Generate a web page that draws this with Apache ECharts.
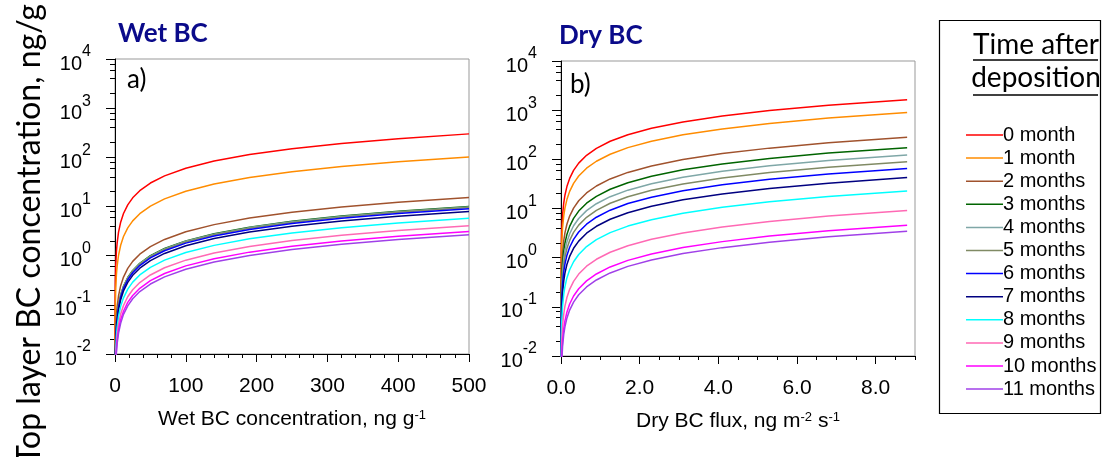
<!DOCTYPE html>
<html><head><meta charset="utf-8">
<script src="https://cdn.jsdelivr.net/npm/echarts@6/dist/echarts.min.js"></script>
<style>html,body{margin:0;padding:0;background:#fff}#c{width:1106px;height:457px}</style>
</head><body><div id="c"></div>
<script>
// ---------- DATA ----------
const seriesNames = ['0 month','1 month','2 months','3 months','4 months','5 months','6 months','7 months','8 months','9 months','10 months','11 months'];
const seriesColors = ['#ff0000','#ff8c00','#a0522d','#006400','#7fa7a7','#808a64','#0000ff','#000080','#00ffff','#ff69b4','#ff00ff','#a040e8'];

// Panel a: wet BC concentration (ng/g) -> top layer BC (ng/g)
const wetX  = [0.01, 0.05, 0.2, 0.5, 1, 2, 3, 5, 8, 12, 18, 25, 35, 50, 70, 100, 140, 190, 250, 320, 400, 500];
const wet0  = [0.006, 0.03, 0.12, 0.3, 0.6, 1.2, 1.8, 3, 4.8, 7.2, 10.8, 15, 21, 30, 42, 60, 84, 114, 150, 192, 240, 300];
const wet1  = [0.002, 0.0102, 0.041, 0.102, 0.204, 0.41, 0.61, 1.02, 1.63, 2.45, 3.67, 5.1, 7.14, 10.2, 14.3, 20.4, 28.6, 38.8, 51, 65.3, 81.6, 102];
const wet2  = [0.0003, 0.0015, 0.0061, 0.0153, 0.0306, 0.061, 0.092, 0.153, 0.245, 0.367, 0.55, 0.765, 1.07, 1.53, 2.14, 3.06, 4.28, 5.81, 7.65, 9.79, 12.2, 15.3];
const wet3  = [0.0002, 0.001, 0.004, 0.01, 0.02, 0.04, 0.06, 0.1, 0.16, 0.24, 0.36, 0.5, 0.7, 1.0, 1.4, 2.0, 2.8, 3.8, 5.0, 6.4, 8.0, 10.0];
const wet4  = [0.0002, 0.00098, 0.0039, 0.0098, 0.0196, 0.039, 0.059, 0.098, 0.157, 0.235, 0.353, 0.49, 0.686, 0.98, 1.37, 1.96, 2.74, 3.72, 4.9, 6.27, 7.84, 9.8];
const wet5  = [0.00019, 0.00095, 0.0038, 0.0095, 0.019, 0.038, 0.057, 0.095, 0.152, 0.228, 0.342, 0.475, 0.665, 0.95, 1.33, 1.9, 2.66, 3.61, 4.75, 6.08, 7.6, 9.5];
const wet6  = [0.00018, 0.0009, 0.0036, 0.009, 0.018, 0.036, 0.054, 0.09, 0.144, 0.216, 0.324, 0.45, 0.63, 0.9, 1.26, 1.8, 2.52, 3.42, 4.5, 5.76, 7.2, 9.0];
const wet7  = [0.00016, 0.0008, 0.0032, 0.008, 0.0159, 0.032, 0.048, 0.0795, 0.127, 0.191, 0.286, 0.398, 0.557, 0.795, 1.11, 1.59, 2.23, 3.02, 3.98, 5.09, 6.36, 7.95];
const wet8  = [0.00012, 0.00058, 0.0023, 0.0058, 0.0116, 0.023, 0.035, 0.058, 0.093, 0.139, 0.209, 0.29, 0.406, 0.58, 0.812, 1.16, 1.62, 2.2, 2.9, 3.71, 4.64, 5.8];
const wet9  = [0.00008, 0.0004, 0.0016, 0.004, 0.0081, 0.016, 0.024, 0.0405, 0.065, 0.097, 0.146, 0.203, 0.284, 0.405, 0.567, 0.81, 1.13, 1.54, 2.03, 2.59, 3.24, 4.05];
const wet10 = [0.00006, 0.0003, 0.0012, 0.0031, 0.0062, 0.0124, 0.0186, 0.031, 0.05, 0.074, 0.112, 0.155, 0.217, 0.31, 0.434, 0.62, 0.868, 1.18, 1.55, 1.98, 2.48, 3.1];
const wet11 = [0.00005, 0.00027, 0.0011, 0.0027, 0.0053, 0.0106, 0.016, 0.0265, 0.042, 0.064, 0.095, 0.133, 0.186, 0.265, 0.371, 0.53, 0.742, 1.01, 1.33, 1.7, 2.12, 2.65];

// Panel b: dry BC flux (ng m-2 s-1) -> top layer BC (ng/g)
const dryX  = [0.00002, 0.0002, 0.001, 0.004, 0.01, 0.02, 0.04, 0.07, 0.1, 0.15, 0.22, 0.32, 0.45, 0.65, 0.9, 1.25, 1.7, 2.3, 3.1, 4.1, 5.3, 6.8, 8.8];
const dry0  = [0.0037, 0.037, 0.186, 0.744, 1.86, 3.72, 7.44, 13, 18.6, 27.9, 40.9, 59.5, 83.7, 121, 167, 233, 316, 428, 577, 763, 986, 1265, 1637];
const dry1  = [0.002, 0.0203, 0.1015, 0.406, 1.015, 2.03, 4.06, 7.1, 10.15, 15.2, 22.3, 32.5, 45.7, 66, 91.4, 127, 173, 233, 315, 416, 538, 690, 893];
const dry2  = [0.00064, 0.0064, 0.0319, 0.128, 0.319, 0.638, 1.28, 2.23, 3.19, 4.79, 7.02, 10.2, 14.4, 20.7, 28.7, 39.9, 54.2, 73.4, 98.9, 131, 169, 217, 281];
const dry3  = [0.0004, 0.0039, 0.0197, 0.079, 0.197, 0.394, 0.788, 1.38, 1.97, 2.96, 4.33, 6.3, 8.87, 12.8, 17.7, 24.6, 33.5, 45.3, 61.1, 80.8, 104, 134, 173];
const dry4  = [0.00028, 0.0028, 0.0139, 0.056, 0.139, 0.278, 0.556, 0.973, 1.39, 2.09, 3.06, 4.45, 6.26, 9.04, 12.5, 17.4, 23.6, 32, 43.1, 57, 73.7, 94.5, 122];
const dry5  = [0.0002, 0.002, 0.0102, 0.041, 0.102, 0.204, 0.408, 0.714, 1.02, 1.53, 2.24, 3.26, 4.59, 6.63, 9.18, 12.8, 17.3, 23.5, 31.6, 41.8, 54.1, 69.4, 89.8];
const dry6  = [0.00015, 0.0015, 0.0074, 0.0296, 0.0739, 0.148, 0.296, 0.517, 0.739, 1.11, 1.63, 2.36, 3.33, 4.8, 6.65, 9.24, 12.6, 17, 22.9, 30.3, 39.2, 50.3, 65];
const dry7  = [0.0001, 0.001, 0.0048, 0.0193, 0.0483, 0.0966, 0.193, 0.338, 0.483, 0.725, 1.06, 1.55, 2.17, 3.14, 4.35, 6.04, 8.21, 11.1, 15, 19.8, 25.6, 32.8, 42.5];
const dry8  = [0.00005, 0.0005, 0.0026, 0.0103, 0.0258, 0.0516, 0.103, 0.181, 0.258, 0.387, 0.568, 0.826, 1.16, 1.68, 2.32, 3.23, 4.39, 5.93, 8, 10.6, 13.7, 17.5, 22.7];
const dry9  = [0.00002, 0.0002, 0.001, 0.0041, 0.0103, 0.0206, 0.0412, 0.0721, 0.103, 0.155, 0.227, 0.33, 0.464, 0.67, 0.927, 1.29, 1.75, 2.37, 3.19, 4.22, 5.46, 7, 9.06];
const dry10 = [0.00001, 0.0001, 0.0005, 0.0021, 0.0052, 0.0104, 0.0207, 0.0363, 0.0518, 0.0777, 0.114, 0.166, 0.233, 0.337, 0.466, 0.648, 0.881, 1.19, 1.61, 2.12, 2.75, 3.52, 4.56];
const dry11 = [0.000008, 0.00008, 0.0004, 0.0016, 0.0039, 0.0078, 0.0156, 0.0274, 0.0391, 0.0587, 0.086, 0.125, 0.176, 0.254, 0.352, 0.489, 0.665, 0.899, 1.21, 1.6, 2.07, 2.66, 3.44];

// Tick labels
const wetXTicks = [0, 100, 200, 300, 400, 500];
const dryXTicks = [0, 2, 4, 6, 8];
const yMinorMultipliers = [2, 4, 6, 8];
const yDecades = [-2, -1, 0, 1, 2, 3];

// ---------- BUILD ----------
const wetSets = [wet0,wet1,wet2,wet3,wet4,wet5,wet6,wet7,wet8,wet9,wet10,wet11];
const drySets = [dry0,dry1,dry2,dry3,dry4,dry5,dry6,dry7,dry8,dry9,dry10,dry11];

const SANS = '"Liberation Sans", Arial, sans-serif';
const HUM = 'Lato, "Open Sans", sans-serif';

const minorLogTicks = [];
yDecades.forEach(e => yMinorMultipliers.forEach(m => minorLogTicks.push(Math.log10(m * Math.pow(10, e)))));

function logYAxis(gi) {
  return {
    type: 'log', logBase: 10, gridIndex: gi, min: 0.01, max: 10000, splitNumber: 6,
    axisLine: { show: true, onZero: false, lineStyle: { color: '#000', width: 1 } },
    axisTick: { show: true, length: 9, lineStyle: { color: '#000', width: 1 } },
    minorTick: { show: false },
    splitLine: { show: false },
    axisLabel: {
      margin: 24, color: '#000',
      formatter: v => '{b|10}{s|' + Math.round(Math.log10(v)) + '}',
      rich: {
        b: { fontFamily: SANS, fontSize: 20, lineHeight: 30, verticalAlign: 'bottom', color: '#000' },
        s: { fontFamily: SANS, fontSize: 16, lineHeight: 26, verticalAlign: 'top', color: '#000' }
      }
    }
  };
}
function minorYAxis(gi) {
  return {
    type: 'value', gridIndex: gi, min: -2, max: 4, position: 'left',
    axisLine: { show: false, onZero: false }, axisLabel: { show: false }, splitLine: { show: false },
    axisTick: { show: true, length: 5, customValues: minorLogTicks, lineStyle: { color: '#000', width: 1 } }
  };
}
const nameRich = { s: { fontFamily: SANS, fontSize: 13, lineHeight: 13, verticalAlign: 'top', color: '#000' } };

function lineSeries(name, color, xi, yi, xs, ys) {
  return {
    name: name, type: 'line', xAxisIndex: xi, yAxisIndex: yi,
    data: xs.map((x, j) => [x, ys[j]]),
    symbol: 'none', showSymbol: false, smooth: false, clip: true,
    lineStyle: { width: 1.5, color: color }, itemStyle: { color: color }
  };
}
const series = [];
wetSets.forEach((ys, i) => series.push(lineSeries(seriesNames[i], seriesColors[i], 0, 0, wetX, ys)));
drySets.forEach((ys, i) => series.push(lineSeries(seriesNames[i], seriesColors[i], 1, 2, dryX, ys)));

const option = {
  animation: false,
  backgroundColor: '#fff',
  grid: [
    { left: 115, top: 59, width: 354, height: 295, show: true, borderColor: '#999', borderWidth: 1, backgroundColor: '#fff' },
    { left: 561, top: 61, width: 354, height: 295, show: true, borderColor: '#999', borderWidth: 1, backgroundColor: '#fff' }
  ],
  xAxis: [
    {
      type: 'value', gridIndex: 0, position: 'bottom', min: 0, max: 500, interval: 100,
      axisLine: { show: true, onZero: false, lineStyle: { color: '#000' } },
      axisTick: { show: true, length: 8, lineStyle: { color: '#000' } },
      minorTick: { show: true, splitNumber: 5, length: 4, lineStyle: { color: '#000' } },
      splitLine: { show: false },
      axisLabel: { margin: 22, color: '#000', fontFamily: SANS, fontSize: 21, customValues: wetXTicks },
      name: 'Wet BC concentration, ng g{s|-1}', nameLocation: 'middle', nameGap: 55,
      nameTextStyle: { fontFamily: SANS, fontSize: 21, color: '#000', rich: nameRich }
    },
    {
      type: 'value', gridIndex: 1, position: 'bottom', min: 0, max: 9, interval: 0.5,
      axisLine: { show: true, onZero: false, lineStyle: { color: '#000' } },
      axisTick: { show: true, length: 4, lineStyle: { color: '#000' } },
      splitLine: { show: false },
      axisLabel: { margin: 22, color: '#000', fontFamily: SANS, fontSize: 21, customValues: dryXTicks, formatter: v => v.toFixed(1) },
      name: 'Dry BC flux, ng m{s|-2} s{s|-1}', nameLocation: 'middle', nameGap: 55,
      nameTextStyle: { fontFamily: SANS, fontSize: 21, color: '#000', rich: nameRich }
    },
    {
      type: 'value', gridIndex: 1, position: 'bottom', min: 0, max: 9, interval: 0.5,
      axisLine: { show: false, onZero: false }, axisLabel: { show: false }, splitLine: { show: false },
      axisTick: { show: true, length: 8, customValues: dryXTicks, lineStyle: { color: '#000' } }
    }
  ],
  yAxis: [logYAxis(0), minorYAxis(0), logYAxis(1), minorYAxis(1)],
  legend: {
    data: seriesNames, orient: 'vertical', left: 961, top: 120,
    icon: 'rect', itemWidth: 37, itemHeight: 1.5, itemGap: 3.1, selectedMode: false,
    textStyle: { fontFamily: SANS, fontSize: 20, lineHeight: 20, color: '#000', padding: [0, 0, 0, -5] }
  },
  graphic: [
    { type: 'rect', shape: { x: 939.5, y: 20.5, width: 161, height: 393 }, style: { fill: 'none', stroke: '#000', lineWidth: 1.2 } },
    { type: 'text', x: 1036, y: 45, style: { text: 'Time after', font: '28px ' + HUM, fill: '#000', align: 'center', verticalAlign: 'middle' } },
    { type: 'text', x: 1036, y: 78, style: { text: 'deposition', font: '28px ' + HUM, fill: '#000', align: 'center', verticalAlign: 'middle' } },
    { type: 'line', shape: { x1: 973, y1: 60, x2: 1098, y2: 60 }, style: { stroke: '#000', lineWidth: 1.5 } },
    { type: 'line', shape: { x1: 973, y1: 95, x2: 1098, y2: 95 }, style: { stroke: '#000', lineWidth: 1.5 } },
    { type: 'text', x: 118, y: 34, style: { text: 'Wet BC', font: 'bold 26px ' + HUM, fill: '#0a0a8a', align: 'left', verticalAlign: 'middle' } },
    { type: 'text', x: 559, y: 36, style: { text: 'Dry BC', font: 'bold 26px ' + HUM, fill: '#0a0a8a', align: 'left', verticalAlign: 'middle' } },
    { type: 'text', x: 127, y: 80, style: { text: 'a)', font: '26px ' + HUM, fill: '#000', align: 'left', verticalAlign: 'middle' } },
    { type: 'text', x: 570, y: 85, style: { text: 'b)', font: '26px ' + HUM, fill: '#000', align: 'left', verticalAlign: 'middle' } },
    { type: 'text', x: 30, y: 234, rotation: Math.PI / 2, style: { text: 'Top layer BC concentration, ng/g', font: '32px ' + HUM, fill: '#000', align: 'center', verticalAlign: 'middle' } }
  ],
  series: series
};
const chart = echarts.init(document.getElementById('c'), null, { renderer: 'canvas' });
chart.setOption(option);
</script></body></html>
